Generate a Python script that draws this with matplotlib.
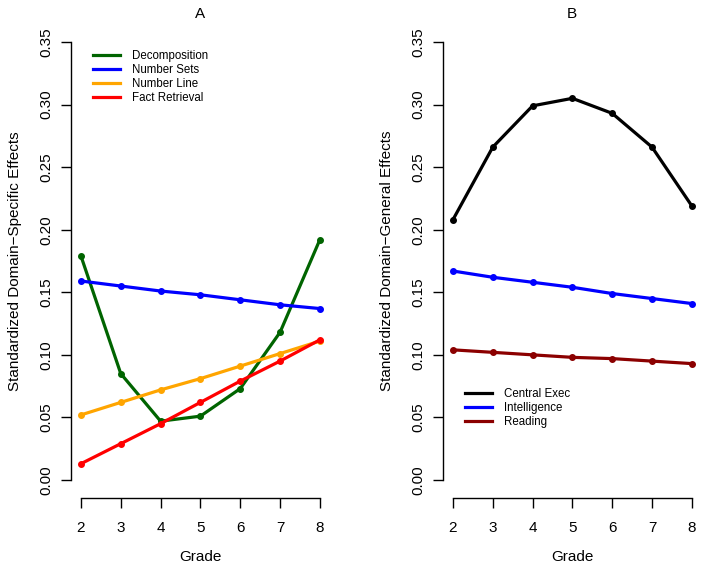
import numpy as np
import matplotlib
matplotlib.use("Agg")
import matplotlib.pyplot as plt

plt.rcParams['font.family'] = ['Liberation Sans', 'DejaVu Sans']

grades = [2, 3, 4, 5, 6, 7, 8]

# panel A: domain-specific effects
decomposition = [0.179, 0.085, 0.047, 0.051, 0.073, 0.118, 0.192]
number_sets = [0.159, 0.155, 0.151, 0.148, 0.144, 0.140, 0.137]
number_line = [0.052, 0.062, 0.072, 0.081, 0.091, 0.101, 0.111]
fact_retrieval = [0.013, 0.029, 0.045, 0.062, 0.079, 0.095, 0.112]

# panel B: domain-general effects
central_exec = [0.208, 0.266, 0.299, 0.305, 0.293, 0.266, 0.219]
intelligence = [0.167, 0.162, 0.158, 0.154, 0.149, 0.145, 0.141]
reading = [0.104, 0.102, 0.100, 0.098, 0.097, 0.095, 0.093]

y_ticks = [0.00, 0.05, 0.10, 0.15, 0.20, 0.25, 0.30, 0.35]

W, H = 704, 571
fig = plt.figure(figsize=(W / 100, H / 100), dpi=100)


def px_axes(left, right, top, bottom):
    return fig.add_axes([left / W, 1 - bottom / H, (right - left) / W, (bottom - top) / H])


def ftext(x, y, s, **kw):
    fig.text(x / W, 1 - y / H, s, ha='center', va='center', fontsize=11, **kw)


def style_axis(ax):
    ax.set_xlim(1.76, 8.24)
    ax.set_ylim(-0.014, 0.364)
    for s in ['top', 'right']:
        ax.spines[s].set_visible(False)
    ax.spines['left'].set_bounds(0, 0.35)
    ax.spines['bottom'].set_bounds(2, 8)
    for s in ['left', 'bottom']:
        ax.spines[s].set_linewidth(1.0)
    ax.set_xticks(grades)
    ax.set_yticks(y_ticks)
    ax.set_yticklabels([f"{v:.2f}" for v in y_ticks], rotation=90, va='center')
    ax.tick_params(length=7, width=1.0, labelsize=11)
    ax.tick_params(axis='x', pad=10)
    ax.tick_params(axis='y', pad=6)


def add_legend(ax, x, y):
    lines = ax.get_lines()
    ax.legend(handles=[plt.Line2D([], [], color=l.get_color(), lw=lw) for l in lines],
              labels=[l.get_label() for l in lines],
              loc='upper left', bbox_to_anchor=(x / W, 1 - y / H), bbox_transform=fig.transFigure,
              frameon=False, fontsize=8.3, handlelength=2.3, handletextpad=1.1,
              labelspacing=0.18, borderpad=0, borderaxespad=0)


lw = 2.3
ms = 4

axA = px_axes(71.4, 329.4, 24.5, 497.5)
axA.plot(grades, decomposition, color='#006400', lw=lw, marker='o', ms=ms, label='Decomposition')
axA.plot(grades, number_sets, color='#0000FF', lw=lw, marker='o', ms=ms, label='Number Sets')
axA.plot(grades, number_line, color='#FFA500', lw=lw, marker='o', ms=ms, label='Number Line')
axA.plot(grades, fact_retrieval, color='#FF0000', lw=lw, marker='o', ms=ms, label='Fact Retrieval')
style_axis(axA)
add_legend(axA, 93, 50)
ftext(200, 14, "A")
ftext(200, 557, "Grade")
ftext(15, 261, "Standardized Domain\u2212Specific Effects", rotation=90)

axB = px_axes(443.4, 701.4, 24.5, 497.5)
axB.plot(grades, central_exec, color='#000000', lw=lw, marker='o', ms=ms, label='Central Exec')
axB.plot(grades, intelligence, color='#0000FF', lw=lw, marker='o', ms=ms, label='Intelligence')
axB.plot(grades, reading, color='#8B0000', lw=lw, marker='o', ms=ms, label='Reading')
style_axis(axB)
add_legend(axB, 465, 388)
ftext(572, 14, "B")
ftext(572, 557, "Grade")
ftext(387, 261, "Standardized Domain\u2212General Effects", rotation=90)

fig.savefig("out.png", dpi=100)
